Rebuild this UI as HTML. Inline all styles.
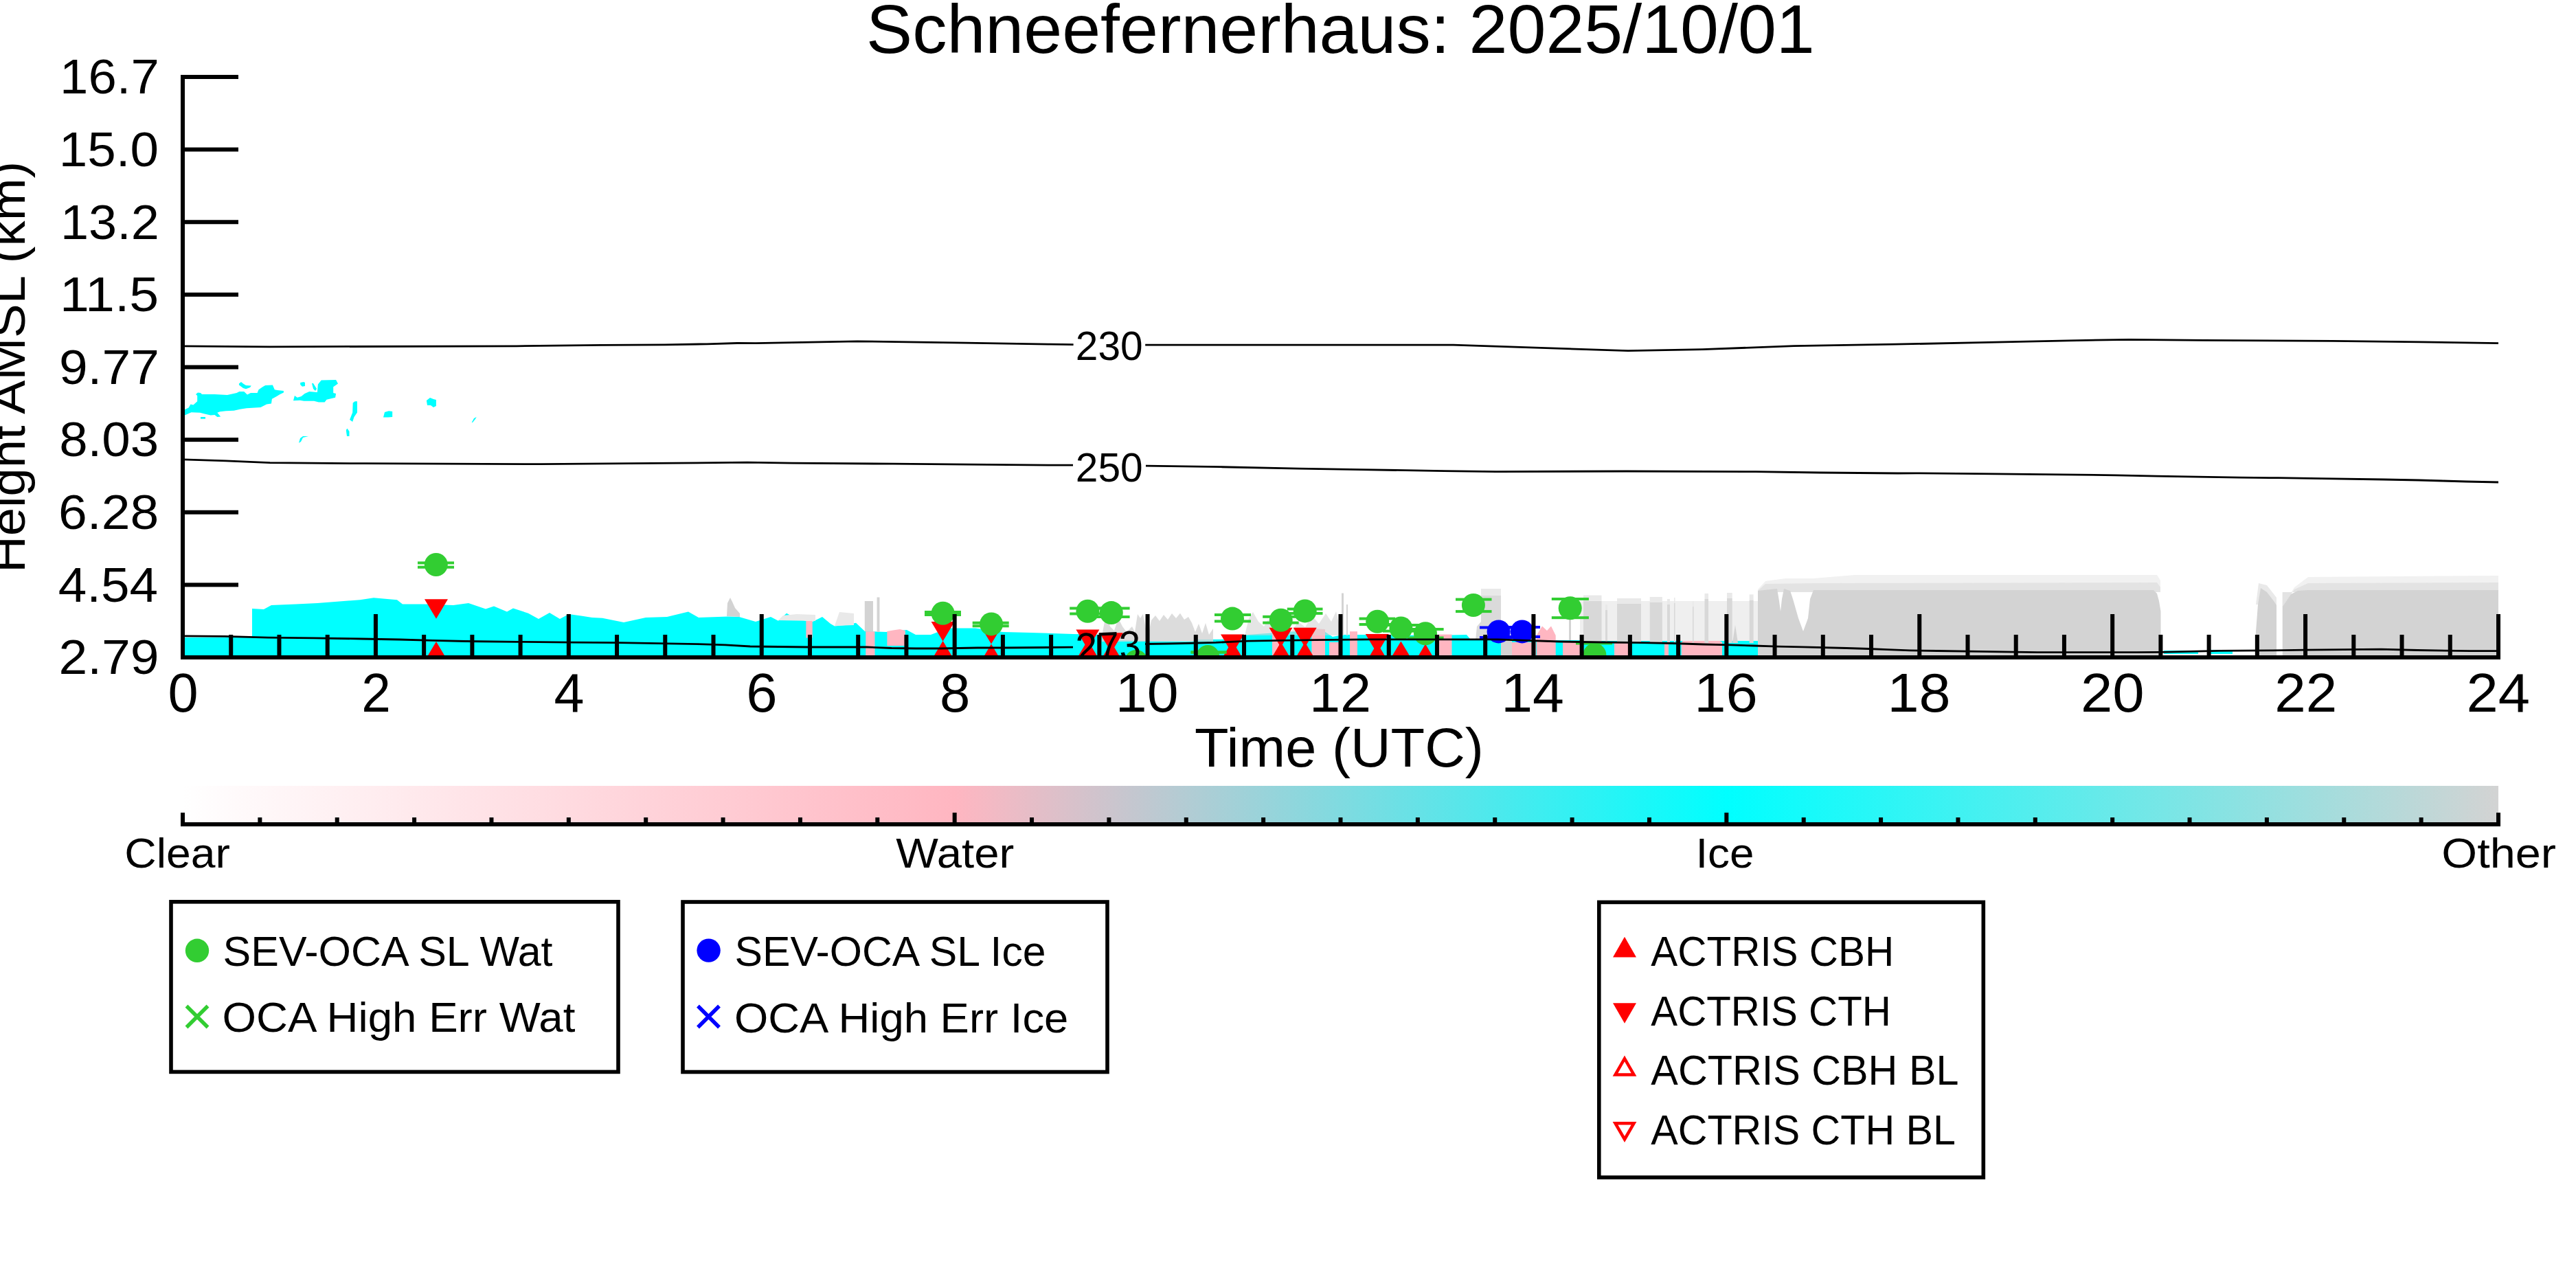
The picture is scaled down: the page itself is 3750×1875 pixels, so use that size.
<!DOCTYPE html><html><head><meta charset="utf-8"><style>
html,body{margin:0;padding:0;background:#fff;width:3750px;height:1875px;overflow:hidden}
svg{display:block}
text{font-family:"Liberation Sans",sans-serif}
</style></head><body>
<svg width="3750" height="1875" viewBox="0 0 3750 1875">
<rect width="3750" height="1875" fill="#fff"/>

<!--DATA-->
<defs><clipPath id="axclip"><rect x="266" y="112" width="3371" height="845"/></clipPath></defs>
<g clip-path="url(#axclip)">
<polygon points="269.0,604.5 269.0,596.3 274.6,593.4 277.5,588.5 281.4,589.5 287.2,584.2 287.2,576.0 285.0,574.0 288.0,571.5 292.0,572.0 294.0,574.0 312.5,574.0 330.9,575.0 344.5,572.0 348.4,570.0 355.2,570.0 360.0,574.5 364.9,572.0 374.6,572.0 376.5,567.2 382.3,563.3 386.2,560.9 396.9,560.4 399.8,567.2 403.7,568.1 412.9,569.0 412.9,571.5 407.6,574.0 402.7,576.9 395.9,580.8 395.0,587.6 388.2,588.5 379.4,592.9 359.0,594.3 349.3,595.8 340.6,597.7 329.0,598.2 320.2,599.2 316.3,600.7 321.2,606.5 316.3,607.0 312.5,604.0 306.6,604.5 297.9,602.6 291.1,600.7 278.5,600.2 274.6,602.1" fill="#00ffff" />
<polygon points="347.9,558.5 351.0,556.0 354.0,558.5 358.0,561.0 365.8,561.5 364.0,564.0 358.0,566.2 354.0,565.0 348.0,560.5" fill="#00ffff" />
<rect x="292.0" y="607.0" width="7.0" height="2.7" fill="#00ffff"/>
<polygon points="427.0,583.2 428.9,575.9 432.8,578.8 438.6,576.9 443.5,573.0 450.3,570.1 461.9,571.0 462.9,559.4 467.7,553.6 489.1,553.1 492.0,558.4 485.2,563.3 485.2,572.0 489.1,573.0 488.1,578.8 475.5,581.7 472.6,585.6 463.9,585.6 457.1,583.7 442.5,583.7 436.7,582.7" fill="#00ffff" />
<polygon points="437.2,557.0 442.0,556.0 444.0,557.0 444.0,562.0 440.0,562.8 437.2,560.0" fill="#00ffff" />
<polygon points="454.0,558.0 456.0,558.0 461.0,566.0 459.0,569.0 456.0,566.0" fill="#00ffff" />
<polygon points="516.7,584.3 520.0,584.3 520.0,600.6 515.5,607.0 513.2,614.0 509.1,611.0 513.2,600.6 513.7,586.6" fill="#00ffff" />
<polygon points="558.0,607.5 560.0,600.0 566.0,598.2 571.2,599.0 571.2,607.0 565.0,607.5" fill="#00ffff" />
<polygon points="620.9,583.0 626.0,579.0 631.0,581.0 634.9,582.0 634.9,591.0 631.0,593.0 627.0,590.0 622.0,590.0" fill="#00ffff" />
<polygon points="686.7,615.0 690.0,609.0 693.7,607.0 692.0,610.0 688.0,615.0" fill="#00ffff" />
<polygon points="503.8,626.0 505.5,623.8 508.5,628.0 508.5,635.0 505.0,635.0" fill="#00ffff" />
<polygon points="435.0,644.8 437.0,638.0 441.0,635.0 449.0,635.0 441.0,637.0 438.0,643.0" fill="#00ffff" />
<polygon points="269.0,928.0 367.0,928.0 367.0,886.0 384.0,887.0 395.0,881.0 431.0,879.5 462.0,878.0 524.0,873.3 544.0,870.2 578.0,873.3 586.0,879.5 617.0,879.5 660.0,881.0 682.0,878.0 707.0,886.5 719.0,882.6 738.0,890.4 747.0,885.4 769.0,892.7 784.0,901.0 800.0,892.0 815.0,901.0 828.0,894.0 846.0,896.6 862.0,899.0 877.0,899.7 908.0,906.0 940.0,899.0 971.0,898.0 1002.0,890.4 1017.0,899.0 1060.0,897.5 1076.0,898.0 1100.0,905.0 1122.0,898.0 1133.0,903.7 1145.0,892.8 1161.0,901.3 1173.0,903.7 1183.0,905.0 1197.0,898.0 1209.0,908.0 1215.0,911.4 1231.0,910.0 1246.0,906.8 1259.0,919.0 1290.0,920.0 1320.0,917.0 1333.0,923.9 1355.0,923.9 1380.0,914.5 1420.0,914.5 1460.0,920.0 1500.0,921.0 1562.0,923.0 1604.0,924.0 1610.0,931.0 1668.0,933.0 1735.0,934.0 1740.0,931.0 1790.0,930.8 1816.0,924.0 1880.0,919.5 1900.0,919.0 1913.0,916.0 1926.0,918.0 1940.0,927.0 1955.0,924.0 1987.0,924.0 2090.0,925.0 2135.0,924.0 2140.0,930.0 2180.0,930.0 2180.0,957.0 269.0,957.0" fill="#00ffff" />
<rect x="2180.0" y="932.0" width="380.0" height="25.0" fill="#00ffff"/>
<rect x="1173.4" y="903.7" width="9.3" height="24.8" fill="#ffb6c1"/>
<rect x="1260.3" y="919.2" width="13.2" height="37.8" fill="#ffb6c1"/>
<polygon points="1291.4,919.0 1300.0,917.6 1310.0,916.0 1317.8,918.0 1317.8,940.0 1291.4,940.0" fill="#ffb6c1" />
<rect x="1852.0" y="919.4" width="10.0" height="37.6" fill="#ffb6c1"/>
<polygon points="1909.4,915.0 1929.0,916.0 1929.0,957.0 1909.4,957.0" fill="#ffb6c1" />
<rect x="1935.0" y="935.0" width="15.0" height="22.0" fill="#ffb6c1"/>
<rect x="1965.0" y="919.2" width="11.0" height="37.8" fill="#ffb6c1"/>
<rect x="2094.0" y="923.6" width="19.5" height="33.4" fill="#ffb6c1"/>
<rect x="2200.0" y="935.0" width="36.0" height="22.0" fill="#ffb6c1"/>
<polygon points="2236.8,925.0 2245.0,911.6 2252.0,918.0 2258.0,911.6 2264.7,925.0 2264.7,957.0 2236.8,957.0" fill="#ffb6c1" />
<rect x="2275.0" y="935.0" width="25.0" height="22.0" fill="#ffb6c1"/>
<rect x="2350.0" y="936.0" width="22.0" height="21.0" fill="#ffb6c1"/>
<rect x="2423.0" y="935.0" width="6.0" height="22.0" fill="#ffb6c1"/>
<polygon points="2447.7,935.0 2460.0,924.8 2475.0,929.0 2490.0,925.0 2507.0,935.0 2507.0,957.0 2447.7,957.0" fill="#ffb6c1" />
<polygon points="1058.0,897.0 1059.0,878.0 1063.0,870.0 1066.0,876.0 1070.0,885.0 1077.0,893.0 1077.0,898.0" fill="#d3d3d3" />
<polygon points="1133.0,903.0 1140.0,896.0 1160.0,894.0 1187.0,895.0 1187.0,904.0" fill="#e9e9e9" />
<polygon points="1215.0,911.0 1222.0,891.0 1243.0,893.0 1243.0,910.0" fill="#e9e9e9" />
<rect x="1258.8" y="875.0" width="12.2" height="44.2" fill="#d3d3d3"/>
<rect x="1276.6" y="869.5" width="3.9" height="50.5" fill="#d3d3d3"/>
<polygon points="1604.0,926.0 1608.0,905.0 1612.0,896.0 1616.0,912.0 1622.0,918.0 1628.0,900.0 1634.0,912.0 1640.0,920.0 1648.0,912.0 1652.0,920.0 1656.0,894.0 1660.0,900.0 1664.0,893.6 1668.0,915.0 1672.0,922.0 1676.0,903.0 1682.0,896.0 1688.0,904.0 1694.0,895.0 1700.0,902.0 1706.0,893.0 1712.0,900.0 1718.0,892.8 1724.0,902.0 1730.0,898.0 1735.0,906.8 1740.0,920.0 1745.0,908.0 1750.0,922.0 1755.0,907.0 1760.0,924.0 1766.0,915.0 1766.0,934.0 1604.0,934.0" fill="#d3d3d3" opacity="0.8"/>
<polygon points="1812.0,925.0 1818.0,900.0 1824.0,891.0 1832.0,905.0 1840.0,912.0 1846.0,902.0 1852.0,915.0 1858.0,895.0 1864.0,910.0 1870.0,900.0 1880.0,919.0 1890.0,905.0 1900.0,913.0 1910.0,896.0 1920.0,908.0 1930.0,893.0 1938.0,905.0 1945.0,890.0 1951.0,915.0 1951.0,925.0" fill="#d3d3d3" opacity="0.6"/>
<rect x="1953.0" y="863.5" width="3.0" height="61.5" fill="#d3d3d3"/>
<rect x="1960.0" y="880.0" width="2.0" height="45.0" fill="#d3d3d3"/>
<rect x="2156.0" y="857.0" width="29.0" height="10.0" fill="#e9e9e9"/>
<polygon points="2148.0,932.0 2150.0,912.0 2156.0,905.0 2156.0,867.0 2185.0,867.0 2185.0,932.0" fill="#d3d3d3" opacity="0.85"/>
<rect x="2185.0" y="932.0" width="16.0" height="25.0" fill="#d3d3d3"/>
<rect x="2284.0" y="900.0" width="3.0" height="32.0" fill="#d3d3d3"/>
<rect x="2300.0" y="875.0" width="259.0" height="58.0" fill="#efefef"/>
<rect x="2305.0" y="874.6" width="26.5" height="61.4" fill="#d8d8d8"/>
<rect x="2305.0" y="866.6" width="26.5" height="8.0" fill="#e9e9e9"/>
<rect x="2354.0" y="879.0" width="35.0" height="57.0" fill="#d8d8d8"/>
<rect x="2354.0" y="871.0" width="35.0" height="8.0" fill="#e9e9e9"/>
<rect x="2401.7" y="877.0" width="18.1" height="59.0" fill="#d8d8d8"/>
<rect x="2401.7" y="869.0" width="18.1" height="8.0" fill="#e9e9e9"/>
<rect x="2514.0" y="871.0" width="7.7" height="65.0" fill="#d8d8d8"/>
<rect x="2514.0" y="863.0" width="7.7" height="8.0" fill="#e9e9e9"/>
<rect x="2546.7" y="873.4" width="5.9" height="62.6" fill="#d8d8d8"/>
<rect x="2546.7" y="865.4" width="5.9" height="8.0" fill="#e9e9e9"/>
<rect x="2337.0" y="888.0" width="3.0" height="48.0" fill="#d8d8d8"/>
<rect x="2337.0" y="880.0" width="3.0" height="8.0" fill="#e9e9e9"/>
<rect x="2427.0" y="880.0" width="4.0" height="56.0" fill="#d8d8d8"/>
<rect x="2427.0" y="872.0" width="4.0" height="8.0" fill="#e9e9e9"/>
<rect x="2437.0" y="878.0" width="1.5" height="58.0" fill="#d8d8d8"/>
<rect x="2437.0" y="870.0" width="1.5" height="8.0" fill="#e9e9e9"/>
<rect x="2464.0" y="883.0" width="1.5" height="53.0" fill="#d8d8d8"/>
<rect x="2464.0" y="875.0" width="1.5" height="8.0" fill="#e9e9e9"/>
<rect x="2481.5" y="872.0" width="5.5" height="64.0" fill="#d8d8d8"/>
<rect x="2481.5" y="864.0" width="5.5" height="8.0" fill="#e9e9e9"/>
<polygon points="2522.0,936.0 2526.0,909.7 2530.0,936.0" fill="#d3d3d3" />
<polygon points="2559.0,858.0 2570.0,846.0 2600.0,842.0 2640.0,842.0 2700.0,837.0 3140.0,837.0 3145.0,845.0 3145.0,862.0 2559.0,862.0" fill="#f1f1f1" />
<polygon points="2559.0,860.0 2570.0,850.0 2640.0,849.0 3140.0,848.0 3145.0,855.0 3145.0,862.0 2559.0,862.0" fill="#e3e3e3" />
<polygon points="3284.0,880.0 3288.0,849.0 3300.0,852.0 3314.0,870.0 3314.0,881.0" fill="#e9e9e9" />
<polygon points="3322.7,883.0 3340.0,855.0 3360.0,840.0 3637.0,838.0 3637.0,862.0 3322.7,862.0" fill="#f1f1f1" />
<polygon points="3322.7,883.0 3340.0,858.0 3360.0,849.0 3637.0,848.0 3637.0,862.0 3322.7,862.0" fill="#e3e3e3" />
<polygon points="2559.0,957.0 2559.0,860.0 2587.0,857.0 2590.0,875.0 2592.0,890.0 2594.0,872.0 2597.0,857.0 2606.0,860.0 2610.0,872.0 2618.0,900.0 2625.0,919.0 2632.0,900.0 2635.0,872.0 2640.0,859.0 2700.0,859.0 3120.0,859.0 3135.0,859.0 3140.0,864.0 3143.0,875.0 3145.5,890.0 3145.5,957.0" fill="#d3d3d3" />
<polygon points="3284.0,957.0 3284.0,919.5 3287.0,880.0 3291.0,856.0 3300.0,862.0 3310.0,875.0 3314.0,881.0 3314.0,957.0" fill="#d3d3d3" />
<polygon points="3322.7,957.0 3322.7,883.0 3335.0,865.0 3345.0,860.0 3360.0,859.0 3637.0,859.0 3637.0,957.0" fill="#d3d3d3" />
<rect x="3150.0" y="947.0" width="50.0" height="5.0" fill="#00ffff"/>
<rect x="3215.0" y="946.0" width="35.0" height="6.0" fill="#00ffff"/>
</g>
<g clip-path="url(#axclip)">
<path d="M618.0,872.2 L652.0,872.2 L635.0,900.7Z" fill="#ff0000"/>
<path d="M1355.6,905.0 L1389.6,905.0 L1372.6,933.5Z" fill="#ff0000"/>
<path d="M1426.0,909.0 L1460.0,909.0 L1443.0,937.5Z" fill="#ff0000"/>
<path d="M1566.4,916.4 L1600.4,916.4 L1583.4,944.9Z" fill="#ff0000"/>
<path d="M1600.8,921.2 L1634.8,921.2 L1617.8,949.7Z" fill="#ff0000"/>
<path d="M1777.0,923.4 L1811.0,923.4 L1794.0,951.9Z" fill="#ff0000"/>
<path d="M1847.5,913.8 L1881.5,913.8 L1864.5,942.3Z" fill="#ff0000"/>
<path d="M1882.7,913.8 L1916.7,913.8 L1899.7,942.3Z" fill="#ff0000"/>
<path d="M1987.8,922.9 L2021.8,922.9 L2004.8,951.4Z" fill="#ff0000"/>
<path d="M635.0,933.9 L652.0,962.4 L618.0,962.4Z" fill="#ff0000"/>
<path d="M1372.6,933.0 L1389.6,961.5 L1355.6,961.5Z" fill="#ff0000"/>
<path d="M1443.0,937.5 L1460.0,966.0 L1426.0,966.0Z" fill="#ff0000"/>
<path d="M1583.4,932.0 L1600.4,960.5 L1566.4,960.5Z" fill="#ff0000"/>
<path d="M1617.8,935.0 L1634.8,963.5 L1600.8,963.5Z" fill="#ff0000"/>
<path d="M1794.0,933.0 L1811.0,961.5 L1777.0,961.5Z" fill="#ff0000"/>
<path d="M1864.7,934.8 L1881.7,963.3 L1847.7,963.3Z" fill="#ff0000"/>
<path d="M1899.7,934.8 L1916.7,963.3 L1882.7,963.3Z" fill="#ff0000"/>
<path d="M2005.0,936.2 L2022.0,964.7 L1988.0,964.7Z" fill="#ff0000"/>
<path d="M2039.4,933.4 L2056.4,961.9 L2022.4,961.9Z" fill="#ff0000"/>
<path d="M2075.0,937.6 L2092.0,966.1 L2058.0,966.1Z" fill="#ff0000"/>
<rect x="608.0" y="817.4" width="53.0" height="4" fill="#32cd32"/>
<rect x="608.0" y="823.7" width="53.0" height="4" fill="#32cd32"/>
<rect x="632.9" y="819.4" width="3.8" height="6.3" fill="#32cd32"/>
<circle cx="634.8" cy="822.0" r="17" fill="#32cd32"/>
<rect x="1346.0" y="889.0" width="53.0" height="4" fill="#32cd32"/>
<rect x="1346.0" y="893.0" width="53.0" height="4" fill="#32cd32"/>
<rect x="1370.7" y="891.0" width="3.8" height="4.0" fill="#32cd32"/>
<circle cx="1372.6" cy="892.8" r="17" fill="#32cd32"/>
<rect x="1415.7" y="904.7" width="53.0" height="4" fill="#32cd32"/>
<rect x="1415.7" y="909.3" width="53.0" height="4" fill="#32cd32"/>
<rect x="1441.2" y="906.7" width="3.8" height="4.6" fill="#32cd32"/>
<circle cx="1443.1" cy="908.4" r="17" fill="#32cd32"/>
<rect x="1557.2" y="883.5" width="51.8" height="4" fill="#32cd32"/>
<rect x="1557.2" y="891.5" width="51.8" height="4" fill="#32cd32"/>
<rect x="1581.5" y="885.5" width="3.8" height="8.0" fill="#32cd32"/>
<circle cx="1583.4" cy="889.8" r="17" fill="#32cd32"/>
<rect x="1591.0" y="883.5" width="53.6" height="4" fill="#32cd32"/>
<rect x="1591.0" y="896.0" width="53.6" height="4" fill="#32cd32"/>
<rect x="1615.9" y="885.5" width="3.8" height="12.5" fill="#32cd32"/>
<circle cx="1617.8" cy="892.1" r="17" fill="#32cd32"/>
<circle cx="1653.9" cy="963.0" r="17" fill="#32cd32"/>
<rect x="1733.5" y="947.5" width="52.0" height="4" fill="#32cd32"/>
<rect x="1733.5" y="947.5" width="52.0" height="4" fill="#32cd32"/>
<rect x="1756.4" y="949.5" width="3.8" height="0.0" fill="#32cd32"/>
<circle cx="1758.3" cy="956.0" r="17" fill="#32cd32"/>
<rect x="1768.0" y="893.0" width="53.0" height="4" fill="#32cd32"/>
<rect x="1768.0" y="902.4" width="53.0" height="4" fill="#32cd32"/>
<rect x="1792.1" y="895.0" width="3.8" height="9.4" fill="#32cd32"/>
<circle cx="1794.0" cy="900.6" r="17" fill="#32cd32"/>
<rect x="1838.2" y="895.8" width="52.4" height="4" fill="#32cd32"/>
<rect x="1838.2" y="904.6" width="52.4" height="4" fill="#32cd32"/>
<rect x="1862.8" y="897.8" width="3.8" height="8.8" fill="#32cd32"/>
<circle cx="1864.7" cy="902.7" r="17" fill="#32cd32"/>
<rect x="1873.8" y="884.6" width="51.7" height="4" fill="#32cd32"/>
<rect x="1873.8" y="890.9" width="51.7" height="4" fill="#32cd32"/>
<rect x="1897.8" y="886.6" width="3.8" height="6.3" fill="#32cd32"/>
<circle cx="1899.7" cy="889.4" r="17" fill="#32cd32"/>
<rect x="1978.6" y="898.6" width="52.4" height="4" fill="#32cd32"/>
<rect x="1978.6" y="907.0" width="52.4" height="4" fill="#32cd32"/>
<rect x="2003.3" y="900.6" width="3.8" height="8.4" fill="#32cd32"/>
<circle cx="2005.2" cy="904.8" r="17" fill="#32cd32"/>
<rect x="2013.0" y="908.0" width="53.0" height="4" fill="#32cd32"/>
<rect x="2013.0" y="916.7" width="53.0" height="4" fill="#32cd32"/>
<rect x="2037.5" y="910.0" width="3.8" height="8.7" fill="#32cd32"/>
<circle cx="2039.4" cy="914.5" r="17" fill="#32cd32"/>
<rect x="2049.0" y="914.0" width="52.6" height="4" fill="#32cd32"/>
<rect x="2049.0" y="926.5" width="52.6" height="4" fill="#32cd32"/>
<rect x="2073.1" y="916.0" width="3.8" height="12.5" fill="#32cd32"/>
<circle cx="2075.0" cy="922.2" r="17" fill="#32cd32"/>
<rect x="2119.0" y="870.6" width="52.5" height="4" fill="#32cd32"/>
<rect x="2119.0" y="888.1" width="52.5" height="4" fill="#32cd32"/>
<rect x="2143.0" y="872.6" width="3.8" height="17.5" fill="#32cd32"/>
<circle cx="2144.9" cy="881.0" r="17" fill="#32cd32"/>
<rect x="2258.8" y="870.0" width="54.1" height="4" fill="#32cd32"/>
<rect x="2258.8" y="897.2" width="54.1" height="4" fill="#32cd32"/>
<rect x="2283.8" y="872.0" width="3.8" height="27.2" fill="#32cd32"/>
<circle cx="2285.7" cy="885.2" r="17" fill="#32cd32"/>
<rect x="2294.0" y="934.5" width="53.0" height="4" fill="#32cd32"/>
<rect x="2294.0" y="968.0" width="53.0" height="4" fill="#32cd32"/>
<rect x="2319.5" y="936.5" width="3.8" height="33.5" fill="#32cd32"/>
<circle cx="2321.4" cy="953.5" r="17" fill="#32cd32"/>
<rect x="2154.0" y="911.5" width="54.0" height="4" fill="#0000ff"/>
<rect x="2154.0" y="926.0" width="54.0" height="4" fill="#0000ff"/>
<rect x="2179.7" y="913.5" width="3.8" height="14.5" fill="#0000ff"/>
<circle cx="2181.6" cy="919.4" r="17" fill="#0000ff"/>
<rect x="2189.0" y="911.0" width="53.0" height="4" fill="#0000ff"/>
<rect x="2189.0" y="925.0" width="53.0" height="4" fill="#0000ff"/>
<rect x="2213.9" y="913.0" width="3.8" height="14.0" fill="#0000ff"/>
<circle cx="2215.8" cy="919.4" r="17" fill="#0000ff"/>
</g>
<g fill="none" stroke="#000" stroke-width="2.8" stroke-linejoin="round" clip-path="url(#axclip)">
<path d="M266.0,503.8 L392.0,504.8 L752.0,503.8 L875.0,502.4 L968.0,501.8 L1029.0,500.8 L1073.0,499.5 L1100.0,499.7 L1248.0,496.8 L1405.7,499.2 L1529.0,501.2 L1562.6,501.7"/>
<path d="M1667.2,502.2 L1958.0,502.2 L2115.7,502.2 L2370.0,510.6 L2478.5,508.6 L2611.6,503.7 L2759.5,501.2 L2882.8,498.7 L3011.0,495.8 L3099.8,494.3 L3208.3,495.3 L3395.6,496.3 L3523.8,497.8 L3637.0,499.7"/>
<path d="M266.0,668.8 L329.0,670.8 L393.0,673.7 L531.0,674.7 L787.6,675.7 L915.8,674.7 L1088.0,673.2 L1152.5,674.2 L1300.0,675.2 L1409.0,676.2 L1530.0,677.2 L1562.0,677.2"/>
<path d="M1668.0,678.2 L1776.5,679.7 L1890.0,682.1 L1981.0,683.6 L2102.0,685.6 L2178.0,686.6 L2368.0,686.0 L2555.6,686.6 L2649.0,688.0 L2762.7,689.0 L2790.0,688.8 L2903.9,689.8 L3001.0,690.8 L3080.4,691.8 L3139.8,693.1 L3199.0,694.1 L3260.0,695.1 L3316.4,695.7 L3379.0,696.7 L3469.9,698.0 L3521.0,699.0 L3555.7,700.0 L3590.0,701.0 L3637.0,702.0"/>
<path d="M266.0,925.8 L327.0,926.4 L390.0,928.1 L457.0,928.9 L527.0,930.0 L582.0,931.0 L630.0,932.3 L678.0,933.5 L752.0,934.3 L831.0,935.1 L901.0,935.7 L1016.0,937.7 L1056.0,938.8 L1092.0,941.0 L1175.0,942.0 L1262.0,942.0 L1298.0,943.5 L1333.0,944.0 L1370.0,944.0 L1423.0,943.0 L1460.0,943.0 L1562.0,942.2"/>
<path d="M1667.0,937.5 L1700.0,937.0 L1725.0,936.5 L1770.0,935.4 L1817.0,933.2 L1864.0,932.4 L1915.0,931.6 L1991.0,930.8 L2180.0,930.8 L2271.0,934.0 L2333.0,935.0 L2390.0,935.7 L2434.0,936.5 L2479.0,938.0 L2518.0,938.8 L2553.0,940.0 L2588.0,941.2 L2624.0,941.9 L2688.0,943.5 L2720.0,944.5 L2748.0,945.7 L2780.0,946.8 L2820.0,947.5 L2880.0,948.3 L2966.0,949.7 L3110.0,949.7 L3145.0,949.4 L3231.0,947.3 L3308.0,946.9 L3357.0,946.2 L3466.0,945.2 L3519.0,946.5 L3596.0,947.7 L3637.0,947.7"/>
</g>
<text transform="translate(1565.76,524.20) scale(0.9789,1)" font-size="60.00" fill="#000" >230</text>
<text transform="translate(1565.76,700.90) scale(0.9789,1)" font-size="60.00" fill="#000" >250</text>
<g clip-path="url(#axclip)"><g transform="rotate(-2.5 1614 961.5)">
<text transform="translate(1566.76,961.80) scale(0.9481,1)" font-size="60.00" fill="#000" >273</text>
</g></g>
<rect x="263" y="109" width="6" height="851" fill="#000"/>
<rect x="263" y="954" width="3377" height="6" fill="#000"/>
<rect x="263" y="109.00" width="84" height="6" fill="#000"/>
<rect x="263" y="214.62" width="84" height="6" fill="#000"/>
<rect x="263" y="320.25" width="84" height="6" fill="#000"/>
<rect x="263" y="425.88" width="84" height="6" fill="#000"/>
<rect x="263" y="531.50" width="84" height="6" fill="#000"/>
<rect x="263" y="637.12" width="84" height="6" fill="#000"/>
<rect x="263" y="742.75" width="84" height="6" fill="#000"/>
<rect x="263" y="848.38" width="84" height="6" fill="#000"/>
<rect x="263" y="954.00" width="84" height="6" fill="#000"/>
<rect x="263.00" y="894" width="6" height="66" fill="#000"/>
<rect x="333.23" y="924" width="6" height="36" fill="#000"/>
<rect x="403.46" y="924" width="6" height="36" fill="#000"/>
<rect x="473.69" y="924" width="6" height="36" fill="#000"/>
<rect x="543.92" y="894" width="6" height="66" fill="#000"/>
<rect x="614.15" y="924" width="6" height="36" fill="#000"/>
<rect x="684.38" y="924" width="6" height="36" fill="#000"/>
<rect x="754.60" y="924" width="6" height="36" fill="#000"/>
<rect x="824.83" y="894" width="6" height="66" fill="#000"/>
<rect x="895.06" y="924" width="6" height="36" fill="#000"/>
<rect x="965.29" y="924" width="6" height="36" fill="#000"/>
<rect x="1035.52" y="924" width="6" height="36" fill="#000"/>
<rect x="1105.75" y="894" width="6" height="66" fill="#000"/>
<rect x="1175.98" y="924" width="6" height="36" fill="#000"/>
<rect x="1246.21" y="924" width="6" height="36" fill="#000"/>
<rect x="1316.44" y="924" width="6" height="36" fill="#000"/>
<rect x="1386.67" y="894" width="6" height="66" fill="#000"/>
<rect x="1456.90" y="924" width="6" height="36" fill="#000"/>
<rect x="1527.12" y="924" width="6" height="36" fill="#000"/>
<rect x="1597.35" y="924" width="6" height="36" fill="#000"/>
<rect x="1667.58" y="894" width="6" height="66" fill="#000"/>
<rect x="1737.81" y="924" width="6" height="36" fill="#000"/>
<rect x="1808.04" y="924" width="6" height="36" fill="#000"/>
<rect x="1878.27" y="924" width="6" height="36" fill="#000"/>
<rect x="1948.50" y="894" width="6" height="66" fill="#000"/>
<rect x="2018.73" y="924" width="6" height="36" fill="#000"/>
<rect x="2088.96" y="924" width="6" height="36" fill="#000"/>
<rect x="2159.19" y="924" width="6" height="36" fill="#000"/>
<rect x="2229.42" y="894" width="6" height="66" fill="#000"/>
<rect x="2299.65" y="924" width="6" height="36" fill="#000"/>
<rect x="2369.88" y="924" width="6" height="36" fill="#000"/>
<rect x="2440.10" y="924" width="6" height="36" fill="#000"/>
<rect x="2510.33" y="894" width="6" height="66" fill="#000"/>
<rect x="2580.56" y="924" width="6" height="36" fill="#000"/>
<rect x="2650.79" y="924" width="6" height="36" fill="#000"/>
<rect x="2721.02" y="924" width="6" height="36" fill="#000"/>
<rect x="2791.25" y="894" width="6" height="66" fill="#000"/>
<rect x="2861.48" y="924" width="6" height="36" fill="#000"/>
<rect x="2931.71" y="924" width="6" height="36" fill="#000"/>
<rect x="3001.94" y="924" width="6" height="36" fill="#000"/>
<rect x="3072.17" y="894" width="6" height="66" fill="#000"/>
<rect x="3142.40" y="924" width="6" height="36" fill="#000"/>
<rect x="3212.62" y="924" width="6" height="36" fill="#000"/>
<rect x="3282.85" y="924" width="6" height="36" fill="#000"/>
<rect x="3353.08" y="894" width="6" height="66" fill="#000"/>
<rect x="3423.31" y="924" width="6" height="36" fill="#000"/>
<rect x="3493.54" y="924" width="6" height="36" fill="#000"/>
<rect x="3563.77" y="924" width="6" height="36" fill="#000"/>
<rect x="3634.00" y="894" width="6" height="66" fill="#000"/>
<text transform="translate(1261.08,77.00) scale(1.0054,1)" font-size="100.00" fill="#000" >Schneefernerhaus: 2025/10/01</text>
<text transform="translate(87.08,136.30) scale(1.0572,1)" font-size="70.34" fill="#000" >16.7</text>
<text transform="translate(85.73,241.93) scale(1.0604,1)" font-size="70.34" fill="#000" >15.0</text>
<text transform="translate(87.95,347.55) scale(1.0507,1)" font-size="70.34" fill="#000" >13.2</text>
<text transform="translate(86.88,453.18) scale(1.0964,1)" font-size="70.34" fill="#000" >11.5</text>
<text transform="translate(85.93,558.80) scale(1.0659,1)" font-size="70.34" fill="#000" >9.77</text>
<text transform="translate(86.16,664.42) scale(1.0600,1)" font-size="70.34" fill="#000" >8.03</text>
<text transform="translate(85.07,770.05) scale(1.0681,1)" font-size="70.34" fill="#000" >6.28</text>
<text transform="translate(84.81,875.67) scale(1.0617,1)" font-size="70.34" fill="#000" >4.54</text>
<text transform="translate(85.41,981.30) scale(1.0670,1)" font-size="70.34" fill="#000" >2.79</text>
<text transform="translate(244.39,1036.00) scale(1.0025,1)" font-size="79.12" fill="#000" >0</text>
<text transform="translate(526.15,1036.00) scale(0.9687,1)" font-size="79.12" fill="#000" >2</text>
<text transform="translate(806.59,1036.00) scale(0.9995,1)" font-size="79.12" fill="#000" >4</text>
<text transform="translate(1086.33,1036.00) scale(1.0298,1)" font-size="79.12" fill="#000" >6</text>
<text transform="translate(1368.03,1036.00) scale(1.0084,1)" font-size="79.12" fill="#000" >8</text>
<text transform="translate(1623.74,1036.00) scale(1.0429,1)" font-size="79.12" fill="#000" >10</text>
<text transform="translate(1905.98,1036.00) scale(1.0249,1)" font-size="79.12" fill="#000" >12</text>
<text transform="translate(2185.20,1036.00) scale(1.0419,1)" font-size="79.12" fill="#000" >14</text>
<text transform="translate(2466.35,1036.00) scale(1.0505,1)" font-size="79.12" fill="#000" >16</text>
<text transform="translate(2747.48,1036.00) scale(1.0458,1)" font-size="79.12" fill="#000" >18</text>
<text transform="translate(3028.94,1036.00) scale(1.0522,1)" font-size="79.12" fill="#000" >20</text>
<text transform="translate(3311.15,1036.00) scale(1.0347,1)" font-size="79.12" fill="#000" >22</text>
<text transform="translate(3590.40,1036.00) scale(1.0511,1)" font-size="79.12" fill="#000" >24</text>
<text transform="translate(1738.97,1116.00) scale(1.0264,1)" font-size="79.12" fill="#000" >Time (UTC)</text>
<g transform="translate(35.8,533.5) rotate(-90)">
<text transform="translate(-300.27,0.00) scale(1.0544,1)" font-size="70.34" fill="#000" >Height AMSL (km)</text>
</g>
<defs><linearGradient id="cb" x1="0" x2="1" y1="0" y2="0">
<stop offset="0" stop-color="#ffffff"/><stop offset="0.3333" stop-color="#ffb6c1"/>
<stop offset="0.6667" stop-color="#00ffff"/><stop offset="1" stop-color="#d3d3d3"/></linearGradient></defs>
<rect x="266.0" y="1144" width="3371.0" height="56" fill="url(#cb)"/>
<rect x="263" y="1197" width="3377" height="6" fill="#000"/>
<rect x="263.00" y="1183" width="6" height="20" fill="#000"/>
<rect x="375.37" y="1190" width="6" height="13" fill="#000"/>
<rect x="487.73" y="1190" width="6" height="13" fill="#000"/>
<rect x="600.10" y="1190" width="6" height="13" fill="#000"/>
<rect x="712.47" y="1190" width="6" height="13" fill="#000"/>
<rect x="824.83" y="1190" width="6" height="13" fill="#000"/>
<rect x="937.20" y="1190" width="6" height="13" fill="#000"/>
<rect x="1049.57" y="1190" width="6" height="13" fill="#000"/>
<rect x="1161.93" y="1190" width="6" height="13" fill="#000"/>
<rect x="1274.30" y="1190" width="6" height="13" fill="#000"/>
<rect x="1386.67" y="1183" width="6" height="20" fill="#000"/>
<rect x="1499.03" y="1190" width="6" height="13" fill="#000"/>
<rect x="1611.40" y="1190" width="6" height="13" fill="#000"/>
<rect x="1723.77" y="1190" width="6" height="13" fill="#000"/>
<rect x="1836.13" y="1190" width="6" height="13" fill="#000"/>
<rect x="1948.50" y="1190" width="6" height="13" fill="#000"/>
<rect x="2060.87" y="1190" width="6" height="13" fill="#000"/>
<rect x="2173.23" y="1190" width="6" height="13" fill="#000"/>
<rect x="2285.60" y="1190" width="6" height="13" fill="#000"/>
<rect x="2397.97" y="1190" width="6" height="13" fill="#000"/>
<rect x="2510.33" y="1183" width="6" height="20" fill="#000"/>
<rect x="2622.70" y="1190" width="6" height="13" fill="#000"/>
<rect x="2735.07" y="1190" width="6" height="13" fill="#000"/>
<rect x="2847.43" y="1190" width="6" height="13" fill="#000"/>
<rect x="2959.80" y="1190" width="6" height="13" fill="#000"/>
<rect x="3072.17" y="1190" width="6" height="13" fill="#000"/>
<rect x="3184.53" y="1190" width="6" height="13" fill="#000"/>
<rect x="3296.90" y="1190" width="6" height="13" fill="#000"/>
<rect x="3409.27" y="1190" width="6" height="13" fill="#000"/>
<rect x="3521.63" y="1190" width="6" height="13" fill="#000"/>
<rect x="3634.00" y="1183" width="6" height="20" fill="#000"/>
<text transform="translate(181.35,1263.20) scale(1.0447,1)" font-size="61.54" fill="#000" >Clear</text>
<text transform="translate(1304.37,1263.20) scale(1.0623,1)" font-size="61.54" fill="#000" >Water</text>
<text transform="translate(2468.39,1263.20) scale(1.0369,1)" font-size="61.54" fill="#000" >Ice</text>
<text transform="translate(3554.31,1263.20) scale(1.0830,1)" font-size="61.54" fill="#000" >Other</text>
<rect x="249" y="1312.8" width="651" height="247.60000000000014" fill="#fff" stroke="#000" stroke-width="5.6"/>
<rect x="994" y="1313" width="618" height="247.5" fill="#fff" stroke="#000" stroke-width="5.6"/>
<rect x="2327.8" y="1313.4" width="559.5" height="400.5999999999999" fill="#fff" stroke="#000" stroke-width="5.6"/>
<circle cx="287" cy="1383.8" r="17.2" fill="#32cd32"/>
<path d="M271.5,1464.5 L302.5,1495.5 M302.5,1464.5 L271.5,1495.5" stroke="#32cd32" stroke-width="5.5"/>
<text transform="translate(324.56,1406.00) scale(0.9906,1)" font-size="61.54" fill="#000" >SEV-OCA SL Wat</text>
<text transform="translate(323.48,1502.00) scale(1.0344,1)" font-size="61.54" fill="#000" >OCA High Err Wat</text>
<circle cx="1031.6" cy="1383.6" r="17.2" fill="#0000ff"/>
<path d="M1016,1464.5 L1047,1495.5 M1047,1464.5 L1016,1495.5" stroke="#0000ff" stroke-width="5.5"/>
<text transform="translate(1069.47,1405.70) scale(0.9863,1)" font-size="61.54" fill="#000" >SEV-OCA SL Ice</text>
<text transform="translate(1068.99,1502.50) scale(1.0307,1)" font-size="61.54" fill="#000" >OCA High Err Ice</text>
<path d="M2365,1363.8 L2382,1393.6 L2348,1393.6Z" fill="#ff0000"/>
<path d="M2365,1489.8 L2382,1460.2 L2348,1460.2Z" fill="#ff0000"/>
<path d="M2365,1541 L2378.5,1564.5 L2351.5,1564.5Z" fill="none" stroke="#ff0000" stroke-width="4.5"/>
<path d="M2365,1658.5 L2378.5,1635.3 L2351.5,1635.3Z" fill="none" stroke="#ff0000" stroke-width="4.5"/>
<text transform="translate(2403.35,1406.20) scale(0.9443,1)" font-size="61.88" fill="#000" >ACTRIS CBH</text>
<text transform="translate(2403.35,1492.60) scale(0.9415,1)" font-size="61.88" fill="#000" >ACTRIS CTH</text>
<text transform="translate(2403.35,1579.40) scale(0.9583,1)" font-size="61.88" fill="#000" >ACTRIS CBH BL</text>
<text transform="translate(2403.35,1665.80) scale(0.9558,1)" font-size="61.88" fill="#000" >ACTRIS CTH BL</text>
</svg></body></html>
